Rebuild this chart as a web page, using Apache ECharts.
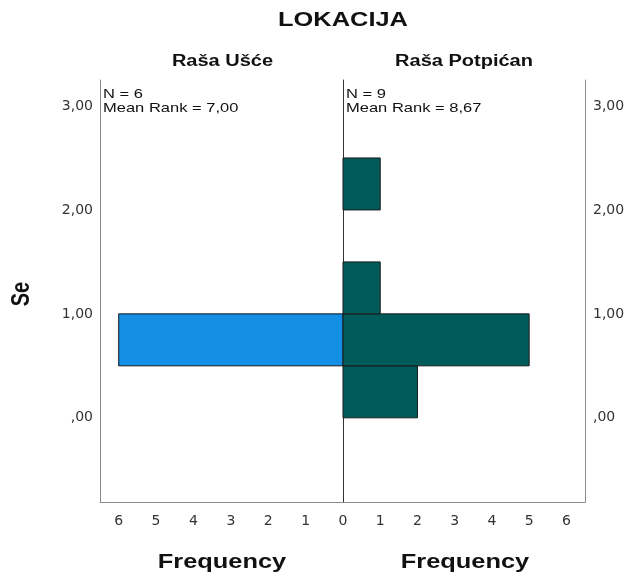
<!DOCTYPE html>
<html>
<head>
<meta charset="utf-8">
<script src="https://cdn.jsdelivr.net/npm/echarts@6/dist/echarts.min.js"></script>
<style>html,body{margin:0;padding:0;background:#fff}#c{width:627px;height:579px}</style>
</head>
<body>
<div id="c"></div>
<script>
// ---- data ----
var binLow = [0, 0.5, 1.0, 1.5, 2.0];
var binHigh = [0.5, 1.0, 1.5, 2.0, 2.5];
var usceFreq = [0, 6, 0, 0, 0];
var potpicanFreq = [2, 5, 1, 0, 1];
var yTicks = [0, 1, 2, 3];
var xTicks = [0, 1, 2, 3, 4, 5, 6];
var chartTitle = 'LOKACIJA';
var groups = ['Raša Ušće', 'Raša Potpićan'];
var groupN = ['N = 6', 'N = 9'];
var groupRank = ['Mean Rank = 7,00', 'Mean Rank = 8,67'];
var xName = 'Frequency';
var yName = 'Se';

var FONT = 'Liberation Sans, Arial, sans-serif';
var LFONT = 'DejaVu Sans, sans-serif';
var SX = 1.25;
function fmtY(v) { var s = v.toFixed(2).replace('.', ','); return s.indexOf('0,') === 0 ? s.slice(1) : s; }
function rows(freq) { var r = []; for (var i = 0; i < freq.length; i++) if (freq[i] > 0) r.push([binLow[i], binHigh[i], freq[i]]); return r; }
function makeRender(fill) {
  return function (params, api) {
    var lo = api.value(0), hi = api.value(1), n = api.value(2);
    var a = api.coord([0, hi]), b = api.coord([n, lo]);
    return { type: 'rect', shape: { x: Math.min(a[0], b[0]), y: Math.min(a[1], b[1]), width: Math.abs(b[0] - a[0]), height: Math.abs(b[1] - a[1]) },
      style: { fill: fill, stroke: '#1a1a1a', lineWidth: 1 } };
  };
}
function txt(t, x, y, font, align, sx, rot, sy) {
  return { type: 'text', x: x, y: y, scaleX: sx || 1, scaleY: sy || 1, rotation: rot || 0, z: 10,
    style: { text: t, font: font, fill: '#111', textAlign: align || 'center', textVerticalAlign: 'middle' } };
}
var yMin = -0.81, yMax = 3.25;
function xAxisCommon(idx, inverse, hideZero) {
  return { type: 'value', gridIndex: idx, min: 0, max: 6.5, inverse: inverse,
    axisLine: { show: true, onZero: false, lineStyle: { color: '#8c8c8c', width: 1 } },
    axisTick: { show: false }, splitLine: { show: false },
    axisLabel: { customValues: hideZero ? xTicks.slice(1) : xTicks, color: '#333', fontFamily: LFONT, fontSize: 14, margin: 12 } };
}
var chart = echarts.init(document.getElementById('c'));
chart.setOption({
  animation: false,
  graphic: [
    txt(chartTitle, 343, 20, 'bold 20px ' + FONT, 'center', 1.27),
    txt(groups[0], 222.5, 62, 'bold 16px ' + FONT, 'center', SX),
    txt(groups[1], 464, 62, 'bold 16px ' + FONT, 'center', SX),
    txt(groupN[0], 103, 94, '13px ' + FONT, 'left', 1.27),
    txt(groupRank[0], 103, 108.5, '13px ' + FONT, 'left', 1.27),
    txt(groupN[1], 346, 94, '13px ' + FONT, 'left', 1.27),
    txt(groupRank[1], 346, 108.5, '13px ' + FONT, 'left', 1.27),
    txt(xName, 222, 562, 'bold 20px ' + FONT, 'center', 1.27),
    txt(xName, 465, 562, 'bold 20px ' + FONT, 'center', 1.27),
    txt(yName, 22, 294, 'bold 20px ' + FONT, 'center', 1, Math.PI / 2, 1.25)
  ],
  grid: [
    { left: 100, top: 80, width: 243, height: 422, outerBoundsMode: 'none', containLabel: false },
    { left: 343, top: 80, width: 242, height: 422, outerBoundsMode: 'none', containLabel: false }
  ],
  xAxis: [xAxisCommon(0, true, false), xAxisCommon(1, false, true)],
  yAxis: [
    { type: 'value', gridIndex: 0, min: yMin, max: yMax, position: 'left',
      axisLine: { show: true, onZero: false, lineStyle: { color: '#8c8c8c' } }, axisTick: { show: false }, splitLine: { show: false },
      axisLabel: { customValues: yTicks, formatter: fmtY, color: '#333', fontFamily: LFONT, fontSize: 14, margin: 7 } },
    { type: 'value', gridIndex: 0, min: yMin, max: yMax, position: 'right',
      axisLine: { show: true, onZero: false, lineStyle: { color: '#333' } }, axisTick: { show: false }, splitLine: { show: false },
      axisLabel: { show: false } },
    { type: 'value', gridIndex: 1, min: yMin, max: yMax, position: 'right',
      axisLine: { show: true, onZero: false, lineStyle: { color: '#8c8c8c' } }, axisTick: { show: false }, splitLine: { show: false },
      axisLabel: { customValues: yTicks, formatter: fmtY, color: '#333', fontFamily: LFONT, fontSize: 14, margin: 8 } }
  ],
  series: [
    { type: 'custom', xAxisIndex: 0, yAxisIndex: 0, renderItem: makeRender('#148FE6'), data: rows(usceFreq), z: 3 },
    { type: 'custom', xAxisIndex: 1, yAxisIndex: 2, renderItem: makeRender('#005C5A'), data: rows(potpicanFreq), z: 3 }
  ]
});
</script>
</body>
</html>
